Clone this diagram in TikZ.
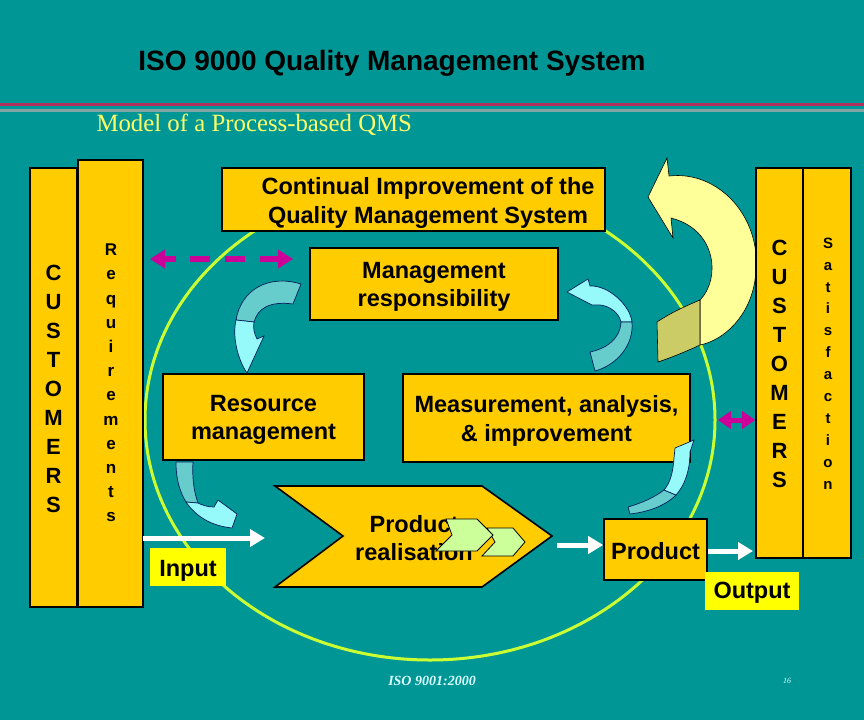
\documentclass[tikz,border=0pt]{standalone}
\usepackage{fontspec}
\setmainfont{Liberation Sans}
\newfontfamily\serifont{Liberation Serif}
\usetikzlibrary{arrows.meta}
\definecolor{bg}{RGB}{0,150,150}
\definecolor{boxyellow}{RGB}{255,204,0}
\definecolor{brightyellow}{RGB}{255,255,0}
\definecolor{subtitle}{RGB}{255,255,102}
\definecolor{ringcol}{RGB}{204,255,51}
\definecolor{redline}{RGB}{176,48,96}
\definecolor{grayline}{RGB}{130,165,165}
\definecolor{magentacol}{RGB}{204,0,153}
\definecolor{cyanlight}{RGB}{150,250,250}
\definecolor{cyandark}{RGB}{102,204,204}
\definecolor{arrowyellow}{RGB}{255,255,153}
\definecolor{olive}{RGB}{204,204,102}
\definecolor{navy}{RGB}{0,30,90}
\definecolor{chevgreen}{RGB}{204,255,153}
\definecolor{footcol}{RGB}{220,255,255}
\tikzset{
  boxtext/.style={font=\bfseries\fontsize{23.5}{28.5}\selectfont, align=center, text=black},
  intext/.style={boxtext, yshift=-3pt},
  qbox/.style={draw=black, line width=1.6pt, fill=boxyellow, inner sep=0pt},
  ybox/.style={fill=brightyellow, inner sep=0pt},
  letters/.style={font=\bfseries\fontsize{22}{29.1}\selectfont, align=center, inner sep=0pt},
  cycl/.style={draw=navy, line width=0.7pt},
  whitearrow/.style={draw=white, line width=5pt, -{Triangle[length=15pt,width=17pt]}},
  magarrow/.style={draw=magentacol, line width=6pt},
}
\begin{document}
\begin{tikzpicture}[x=1pt,y=-1pt]
\useasboundingbox (0,0) rectangle (864,720);
\fill[bg] (0,0) rectangle (864,720);

% title and rules
\node[font=\bfseries\fontsize{28}{32}\selectfont] (title) at (392,63) {ISO 9000 Quality Management System};
\draw[redline, line width=3pt] (0,104) -- (864,104);
\draw[grayline, line width=3pt] (0,110) -- (864,110);
\node[font=\serifont\fontsize{24.8}{28}\selectfont, text=subtitle, anchor=west] (sub) at (93,125) {Model of a Process-based QMS};

% ring
\draw[ringcol, line width=3pt] (430,420) ellipse [x radius=285, y radius=240];

% big yellow improvement arrow
\filldraw[fill=arrowyellow, draw=black, line width=0.6pt]
  (700,300) .. controls (720,280) and (718,230) .. (671,218) -- (673,238) -- (648,197) -- (667,158) -- (669,176)
  .. controls (720,170) and (765,220) .. (755,280) .. controls (750,315) and (725,340) .. (700,345) -- cycle;
\filldraw[fill=olive, draw=black, line width=0.6pt]
  (657,322) .. controls (672,312) and (688,305) .. (700,300) -- (700,345) .. controls (685,352) and (670,358) .. (658,362) -- cycle;

% side columns
\node[qbox, minimum width=47pt, minimum height=439pt] (custL) at (53.5,387.5) {};
\node[letters] (custLt) at (53.5,389) {C\\U\\S\\T\\O\\M\\E\\R\\S};
\node[qbox, minimum width=65pt, minimum height=447pt] (req) at (110.5,383.5) {};
\node[letters, font=\bfseries\fontsize{17}{24.2}\selectfont] (reqt) at (111,383) {R\\e\\q\\u\\i\\r\\e\\m\\e\\n\\t\\s};
\node[qbox, minimum width=47pt, minimum height=390pt] (custR) at (779.5,363) {};
\node[letters] (custRt) at (779.5,364) {C\\U\\S\\T\\O\\M\\E\\R\\S};
\node[qbox, minimum width=48pt, minimum height=390pt] (sat) at (827,363) {};
\node[letters, font=\bfseries\fontsize{15}{21.9}\selectfont] (satt) at (828,363.5) {S\\a\\t\\i\\s\\f\\a\\c\\t\\i\\o\\n};

% main boxes
\node[qbox, minimum width=383pt, minimum height=63pt] (cont) at (413.5,199.5) {};
\node[intext] (contt) at (428,200) {Continual Improvement of the\\Quality Management System};
\node[qbox, minimum width=248pt, minimum height=72pt,
  label={[intext]center:{Management\\responsibility}}] (mgmt) at (434,284) {};
\node[qbox, minimum width=201pt, minimum height=86pt,
  label={[intext]center:{Resource\\management}}] (res) at (263.5,417) {};
\node[qbox, minimum width=287pt, minimum height=88pt,
  label={[intext]center:{Measurement, analysis,\\\& improvement}}] (meas) at (546.5,418) {};

% product realisation chevron
\filldraw[fill=boxyellow, draw=black, line width=1.6pt]
  (275,486) -- (482,486) -- (552,536) -- (482,587) -- (275,587) -- (343,536) -- cycle;
\coordinate (realin) at (265,538);
\coordinate (realout) at (557,545);
\node[boxtext] (realt) at (414,538) {Product\\realisation};
\filldraw[fill=chevgreen, draw=black, line width=0.8pt]
  (487,528) -- (513,528) -- (525,542) -- (513,556) -- (482,556) -- (495,542) -- cycle;
\filldraw[fill=chevgreen, draw=black, line width=0.8pt]
  (446,519) -- (477,519) -- (493,535) -- (477,551) -- (436,551) -- (452,535) -- cycle;

% product / input / output
\node[qbox, minimum width=103pt, minimum height=61pt,
  label={[boxtext, yshift=-2pt]center:Product}] (prod) at (655.5,549.5) {};
\node[ybox, minimum width=76pt, minimum height=38pt,
  label={[boxtext, yshift=-4pt]center:Input}] (input) at (188,567) {};
\node[ybox, minimum width=94pt, minimum height=38pt,
  label={[boxtext, yshift=-2pt]center:Output}] (output) at (752,591) {};

% white flow arrows
\coordinate (inStart) at (143,538);
\draw[whitearrow] (inStart) -- (realin);
\draw[whitearrow] (realout) -- (prod.west |- realout);
\coordinate (outEnd) at (753,551);
\draw[whitearrow] (prod.east |- outEnd) -- (outEnd);

% cycle arrows
% management -> resource
\filldraw[cycl, fill=cyandark] (301,284) .. controls (268,274) and (241,290) .. (236,320) -- (254,322) .. controls (258,308) and (270,301) .. (293,304) -- cycle;
\filldraw[cycl, fill=cyanlight] (236,320) .. controls (232,337) and (238,360) .. (247,373) -- (264,336) -- (257,339) .. controls (254,333) and (253,328) .. (254,322) -- cycle;
% resource -> product realisation
\filldraw[cycl, fill=cyandark] (176,462) .. controls (176,480) and (180,492) .. (186,502) -- (198,503) .. controls (194,492) and (192,478) .. (193,462) -- cycle;
\filldraw[cycl, fill=cyanlight] (186,502) .. controls (197,518) and (213,526) .. (232,528) -- (237,514) -- (218,500) -- (214,507) .. controls (207,507) and (202,505) .. (198,503) -- cycle;
% product realisation -> measurement
\filldraw[cycl, fill=cyandark] (630,514) .. controls (648,512) and (665,506) .. (676,495) -- (664,490) .. controls (655,497) and (642,503) .. (628,507) -- cycle;
\filldraw[cycl, fill=cyanlight] (676,495) .. controls (685,485) and (690,470) .. (690,452) -- (694,440) -- (675,448) -- (674,458) .. controls (673,473) and (670,483) .. (664,490) -- cycle;
% measurement -> management
\filldraw[cycl, fill=cyanlight] (632,322) .. controls (630,305) and (608,285) .. (590,286) -- (588,279) -- (567,292) -- (592,305) -- (600,305) .. controls (610,306) and (619,313) .. (621,322) -- cycle;
\filldraw[cycl, fill=cyandark] (632,322) .. controls (634,345) and (617,365) .. (595,371) -- (590,352) .. controls (605,349) and (620,340) .. (621,322) -- cycle;

% magenta requirement arrows
\coordinate (mL) at (150,259);
\coordinate (mR) at (293,259);
\draw[magarrow, -{Triangle[length=15pt,width=18pt]}] (176,259) -- (mL);
\draw[magarrow] (190,259) -- (210,259);
\draw[magarrow] (225,259) -- (245,259);
\draw[magarrow, -{Triangle[length=15pt,width=18pt]}] (260,259) -- (mR);
\draw[draw=magentacol, line width=5pt, {Triangle[length=13pt,width=17pt]}-{Triangle[length=13pt,width=17pt]}] (meas.east |- 0,420) ++(27,0) -- (custR.west |- 0,420);

% footer
\node[font=\serifont\bfseries\itshape\fontsize{14}{16}\selectfont, text=footcol] (foot) at (432,681) {ISO 9001:2000};
\node[font=\serifont\itshape\fontsize{8}{10}\selectfont, text=footcol] (page) at (787,681) {16};
\end{tikzpicture}
\end{document}
